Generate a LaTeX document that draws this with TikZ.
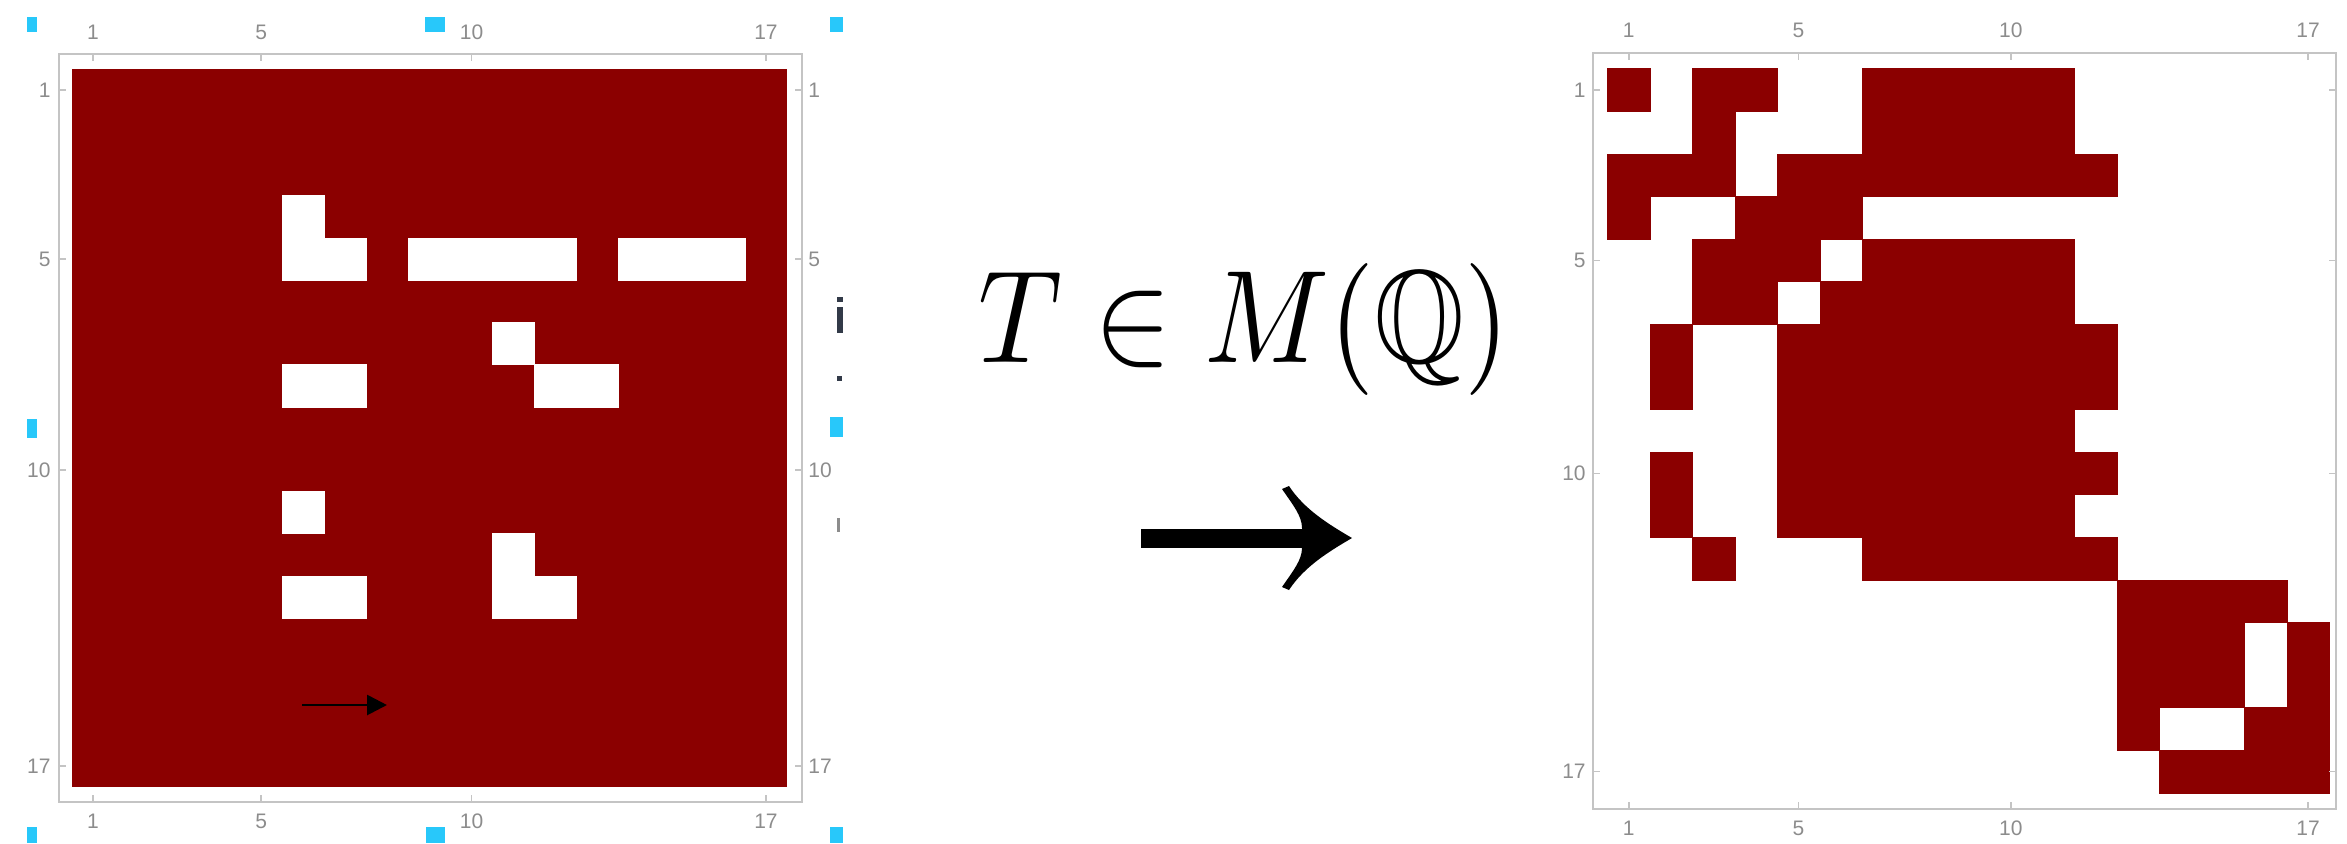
\documentclass[tikz,border=0pt]{standalone}
\usepackage{fontspec}
\usepackage{amssymb}
\usetikzlibrary{arrows.meta}
\newfontfamily\ticksf{Liberation Sans}
\definecolor{mred}{RGB}{139,0,0}
\definecolor{framegray}{RGB}{196,196,196}
\definecolor{labgray}{RGB}{140,140,140}
\definecolor{handle}{RGB}{40,200,250}
\definecolor{frag}{RGB}{50,58,72}
\begin{document}
\begin{tikzpicture}[x=0.5pt,y=-0.5pt,
  frm/.style={draw=framegray, line width=1pt},
  tck/.style={draw=framegray, line width=0.8pt},
  lab/.style={font=\ticksf\fontsize{10.5}{11}\selectfont, text=labgray, inner sep=0pt},
  hdl/.style={fill=handle},
  redcell/.style={fill=mred, draw=mred, line width=0.3pt},
  whitecell/.style={fill=white, draw=white, line width=0.3pt}]
\useasboundingbox (0,0) rectangle (2347,843);

% ---------------- left plot ----------------
\def\LX{72}\def\LY{69}\def\LW{42.06}\def\LH{42.24}
\draw[frm] (58.5,54) rectangle (802,802);
\fill[mred] (\LX,\LY) rectangle (787,787);
\foreach \r/\a/\b in {4/6/6, 5/6/7, 5/9/12, 5/14/16, 7/11/11, 8/6/7, 8/12/13, 11/6/6, 12/11/11, 13/6/7, 13/11/12}
  \path[whitecell] ({\LX+(\a-1)*\LW},{\LY+(\r-1)*\LH}) rectangle ({\LX+\b*\LW},{\LY+\r*\LH});
\foreach \v in {1,5,10,17} {
  \draw[tck] ({\LX+(\v-0.5)*\LW},54) -- ({\LX+(\v-0.5)*\LW},61);
  \draw[tck] ({\LX+(\v-0.5)*\LW},802) -- ({\LX+(\v-0.5)*\LW},795);
  \draw[tck] (58.5,{\LY+(\v-0.5)*\LH}) -- (65.5,{\LY+(\v-0.5)*\LH});
  \draw[tck] (802,{\LY+(\v-0.5)*\LH}) -- (795,{\LY+(\v-0.5)*\LH});
  \node[lab] (ltop\v) at ({\LX+(\v-0.5)*\LW},32.5) {\v};
  \node[lab] (lbot\v) at ({\LX+(\v-0.5)*\LW},821) {\v};
  \node[lab, anchor=east] (lleft\v) at (51,{\LY+(\v-0.5)*\LH}) {\v};
  \node[lab, anchor=west] (lright\v) at (808,{\LY+(\v-0.5)*\LH}) {\v};
}
\coordinate (sa) at (302,705);
\coordinate (sb) at (387,705);
\draw[line width=1.4pt, -{Triangle[length=10pt,width=10pt]}] (sa) -- (sb);

% selection handles and cut-off glyphs
\fill[hdl] (27,17) rectangle (37,32);
\fill[hdl] (425,17) rectangle (445,32);
\fill[hdl] (830,17) rectangle (843,32);
\fill[hdl] (27,419) rectangle (37,438);
\fill[hdl] (830,417) rectangle (843,437);
\fill[hdl] (27,827) rectangle (37,843);
\fill[hdl] (426,827) rectangle (445,843);
\fill[hdl] (830,827) rectangle (843,843);
\fill[frag] (837,297) rectangle (843,302);
\fill[frag] (837,307) rectangle (843,333);
\fill[frag] (837,376) rectangle (842,381);
\fill[labgray] (837,518) rectangle (840,532);

% ---------------- middle ----------------
\node[anchor=base, inner sep=0pt] (tlabel) at (1244,362)
  {\scalebox{5.8}[6.6]{$T\in M(\mathbb{Q})$}};
\fill (1141,529) rectangle (1302,547.5);
\fill (1352,538) .. controls (1328,524) and (1304,509) .. (1289,486)
  -- (1282,489) .. controls (1293,505) and (1302,516) .. (1302,528)
  -- (1302,548) .. controls (1302,560) and (1293,571) .. (1282,587)
  -- (1289,590) .. controls (1304,567) and (1328,552) .. (1352,538) -- cycle;

% ---------------- right plot ----------------
\def\RX{1607.5}\def\RY{68.6}\def\RW{42.46}\def\RH{42.6}
\draw[frm] (1593,53) rectangle (2336,809);
\foreach \r/\a/\b in {1/1/1, 1/3/4, 1/7/11, 2/3/3, 2/7/11, 3/1/3, 3/5/12, 4/1/1, 4/4/6,
  5/3/5, 5/7/11, 6/3/4, 6/6/11, 7/2/2, 7/5/12, 8/2/2, 8/5/12, 9/5/11, 10/2/2, 10/5/12,
  11/2/2, 11/5/11, 12/3/3, 12/7/12, 13/13/16, 14/13/15, 14/17/17, 15/13/15, 15/17/17,
  16/13/13, 16/16/17, 17/14/17}
  \path[redcell] ({\RX+(\a-1)*\RW},{\RY+(\r-1)*\RH}) rectangle ({\RX+\b*\RW},{\RY+\r*\RH});
\foreach \v in {1,5,10,17} {
  \draw[tck] ({\RX+(\v-0.5)*\RW},53) -- ({\RX+(\v-0.5)*\RW},60);
  \draw[tck] ({\RX+(\v-0.5)*\RW},809) -- ({\RX+(\v-0.5)*\RW},802);
  \draw[tck] (1593,{\RY+(\v-0.5)*\RH}) -- (1600,{\RY+(\v-0.5)*\RH});
  \draw[tck] (2336,{\RY+(\v-0.5)*\RH}) -- (2329,{\RY+(\v-0.5)*\RH});
  \node[lab] (rtop\v) at ({\RX+(\v-0.5)*\RW},30) {\v};
  \node[lab] (rbot\v) at ({\RX+(\v-0.5)*\RW},828) {\v};
  \node[lab, anchor=east] (rleft\v) at (1586,{\RY+(\v-0.5)*\RH}) {\v};
}
\end{tikzpicture}
\end{document}
